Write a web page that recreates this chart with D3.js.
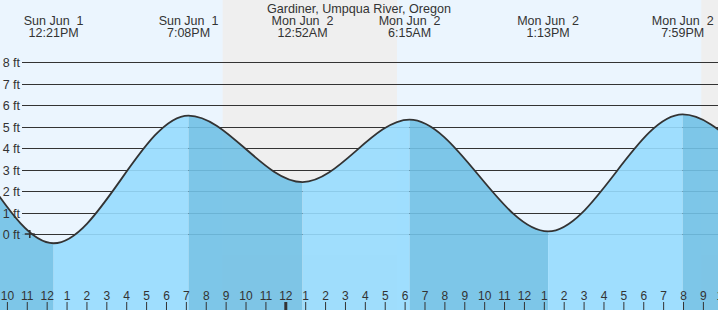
<!DOCTYPE html>
<html lang="en">
<head>
  <meta charset="utf-8">
  <title>Gardiner, Umpqua River, Oregon</title>
<style>
  body { margin: 0; background: #fff; }
  svg { display: block; font-family: "Liberation Sans", Arial, sans-serif; }
  text { fill: #333; white-space: pre; }
</style>
  <script src="https://d3js.org/d3.v7.min.js"></script>
</head>
<body>
<svg width="718" height="310"></svg>
<script>
// data (first and last two points lie outside the view)
var title = "Gardiner, Umpqua River, Oregon";
var tideTimes = ["2025-05-31 23:50", "2025-06-01 05:42", "2025-06-01 12:21", "2025-06-01 19:08", "2025-06-02 00:52",
                 "2025-06-02 06:15", "2025-06-02 13:13", "2025-06-02 19:59", "2025-06-03 01:40", "2025-06-03 07:05"];
var tideHeights = [2.0, 5.5, -0.43, 5.52, 2.42, 5.33, 0.12, 5.57, 2.6, 5.2];
var sunsetTimes = ["2025-06-01 20:51", "2025-06-02 20:55"];
var sunriseTimes = ["2025-06-02 05:37", "2025-06-03 05:37"];
var yTicks = [0, 1, 2, 3, 4, 5, 6, 7, 8];
var markTime = "2025-06-01 11:09", markHeight = 0.0;
var viewStart = "2025-06-01 09:39:12", viewEnd = "2025-06-02 21:45:33";

var parse = d3.timeParse("%Y-%m-%d %H:%M"), parseS = d3.timeParse("%Y-%m-%d %H:%M:%S");
var tides = tideTimes.map(function(t, i) { return { t: parse(t), h: tideHeights[i] }; });

var svg = d3.select("svg"),
    width = +svg.attr("width"),
    height = +svg.attr("height");

var x = d3.scaleTime().domain([parseS(viewStart), parseS(viewEnd)]).range([0, width]);
var y = d3.scaleLinear().domain([0, 8]).range([234, 62.3]);

// day / night background
svg.append("rect").attr("width", width).attr("height", height).attr("fill", "#ebf5fe");
svg.selectAll("rect.night")
    .data(sunsetTimes)
    .enter().append("rect")
      .attr("class", "night")
      .attr("x", function(d) { return x(parse(d)); })
      .attr("width", function(d, i) { return x(parse(sunriseTimes[i])) - x(parse(d)); })
      .attr("y", 0).attr("height", height)
      .attr("fill", "#efefef");

// grid lines
svg.append("g").selectAll("line")
    .data(yTicks)
    .enter().append("line")
      .attr("x1", 22).attr("x2", width)
      .attr("y1", function(d) { return Math.round(y(d)) + 0.5; })
      .attr("y2", function(d) { return Math.round(y(d)) + 0.5; })
      .attr("stroke", "#333");

// water
var area = d3.area()
    .x(function(d) { return x(d.t); })
    .y0(height)
    .y1(function(d) { return y(d.h); })
    .curve(d3.curveMonotoneX);
var line = d3.line()
    .x(function(d) { return x(d.t); })
    .y(function(d) { return y(d.h); })
    .curve(d3.curveMonotoneX);

svg.append("clipPath").attr("id", "water")
  .append("path").attr("d", area(tides));

var water = svg.append("g").attr("clip-path", "url(#water)").attr("opacity", 0.9);
water.selectAll("rect")
    .data(tides.slice(0, -1))
    .enter().append("rect")
      .attr("x", function(d) { return x(d.t); })
      .attr("width", function(d, i) { return x(tides[i + 1].t) - x(d.t); })
      .attr("y", 0).attr("height", height)
      .attr("fill", function(d, i) { return d.h > tides[i + 1].h ? "#72c1e6" : "#97dcfe"; });

svg.append("path")
    .attr("d", line(tides))
    .attr("fill", "none")
    .attr("stroke", "#333")
    .attr("stroke-width", 1.8);

// y labels on top of the water
svg.append("g").selectAll("text")
    .data(yTicks)
    .enter().append("text")
      .attr("x", 20)
      .attr("y", function(d) { return Math.round(y(d)) + 5; })
      .attr("text-anchor", "end")
      .style("font-size", "12.5px")
      .text(function(d) { return d + " ft"; });

// marker
var mx = x(parse(markTime)), my = y(markHeight);
svg.append("path")
    .attr("d", "M" + (mx - 5) + "," + my + "H" + (mx + 5) + "M" + mx + "," + (my - 4) + "V" + (my + 4))
    .attr("stroke", "#333").attr("stroke-width", 1.6);

// high / low labels
var fmtDay = d3.timeFormat("%a %b %e"), fmtTime = d3.timeFormat("%-I:%M%p");
var lbl = svg.append("g").selectAll("g")
    .data(tides.filter(function(d) { return d.t >= x.domain()[0] && d.t <= x.domain()[1]; }))
    .enter().append("g")
      .attr("transform", function(d) { return "translate(" + x(d.t) + ",0)"; })
      .style("font-size", "12.5px")
      .attr("text-anchor", "middle");
lbl.append("text").attr("y", 24.5).text(function(d) { return fmtDay(d.t); });
lbl.append("text").attr("y", 36.5).text(function(d) { return fmtTime(d.t); });

svg.append("text")
    .attr("x", width / 2).attr("y", 12.5)
    .attr("text-anchor", "middle")
    .style("font-size", "12.6px")
    .text(title);

// hour axis (one extra hour so the cut label at the right edge shows)
var hours = d3.timeHour.range(d3.timeHour.ceil(x.domain()[0]), d3.timeHour.offset(x.domain()[1], 1));
var axis = svg.append("g")
    .attr("transform", "translate(0," + height + ")")
    .call(d3.axisTop(x)
        .tickValues(hours)
        .tickFormat(d3.timeFormat("%-I"))
        .tickSize(8)
        .tickPadding(2));
axis.select(".domain").remove();
axis.selectAll("line").attr("stroke", "#333")
    .attr("stroke-width", function(d) { return d.getHours() === 0 ? 3 : 1; });
axis.selectAll("text")
    .style("font-family", "'Liberation Sans', Arial, sans-serif")
    .style("font-size", "12px")
    .attr("fill", "#333");
</script>
</body>
</html>
